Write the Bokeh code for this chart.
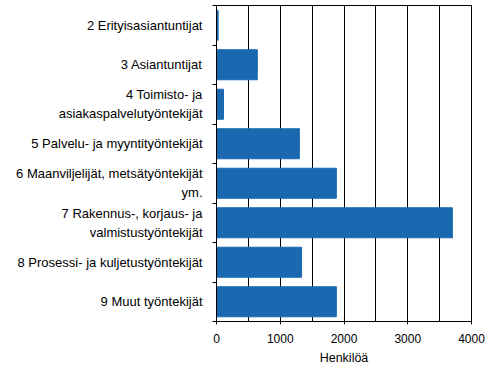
from bokeh.plotting import figure
from bokeh.models import (FactorRange, Range1d, LinearAxis, FixedTicker,
                          SingleIntervalTicker, ColumnDataSource)
from bokeh.embed import file_html
from bokeh.resources import INLINE

categories = [
    "2 Erityisasiantuntijat",
    "3 Asiantuntijat",
    "4 Toimisto- ja\nasiakaspalvelutyöntekijät",
    "5 Palvelu- ja myyntityöntekijät",
    "6 Maanviljelijät, metsätyöntekijät\nym.",
    "7 Rakennus-, korjaus- ja\nvalmistustyöntekijät",
    "8 Prosessi- ja kuljetustyöntekijät",
    "9 Muut työntekijät",
]
values = [25, 640, 110, 1300, 1880, 3700, 1335, 1880]
x_ticks = [0, 1000, 2000, 3000, 4000]
grid_step = 500
x_max = 4000
axis_title = "Henkilöä"

FONT = "Liberation Sans"
BAR = "#1a69b0"

src = ColumnDataSource(dict(cat=categories, val=values))

p = figure(width=490, height=372,
           y_range=FactorRange(*reversed(categories)),
           x_range=Range1d(0, x_max),
           output_backend="svg", toolbar_location=None,
           min_border_left=216, min_border_right=19,
           min_border_top=5, min_border_bottom=51)

p.hbar(y="cat", left=0, right="val", height=0.76, color=BAR, source=src)

p.outline_line_color = "black"
p.outline_line_alpha = 1

# x axis
xa = p.xaxis[0]
xa.ticker = FixedTicker(ticks=x_ticks)
xa.major_tick_out = 3
xa.major_tick_in = 0
xa.minor_tick_line_color = None
xa.axis_line_color = "black"
xa.major_tick_line_color = "black"
xa.major_label_text_font = FONT
xa.major_label_text_font_size = "12px"
xa.major_label_text_color = "black"
xa.major_label_standoff = 9
xa.axis_label = axis_title
xa.axis_label_text_font = FONT
xa.axis_label_text_font_size = "12.5px"
xa.axis_label_text_font_style = "normal"
xa.axis_label_text_color = "black"
xa.axis_label_standoff = 5

p.xgrid.ticker = SingleIntervalTicker(interval=grid_step)
p.xgrid.grid_line_color = "black"
p.xgrid.grid_line_alpha = 1
p.ygrid.visible = False

# categorical y axis (labels only)
ya = p.yaxis[0]
ya.axis_line_color = None
ya.major_tick_line_color = None
ya.major_tick_out = 0
ya.major_tick_in = 0
ya.major_label_standoff = 10
ya.major_label_text_font = FONT
ya.major_label_text_font_size = "13px"
ya.major_label_text_color = "black"
ya.major_label_text_line_height = 1.25
ya.major_label_text_align = "center"

# tick-only axis at category boundaries (synthetic coordinates 0..n)
n = len(categories)
ta = LinearAxis(ticker=FixedTicker(ticks=list(range(n + 1))),
                major_tick_out=4, major_tick_in=0,
                minor_tick_line_color=None,
                major_label_overrides={i: "" for i in range(n + 1)},
                major_label_standoff=0,
                major_label_text_font_size="1px",
                axis_line_color="black", major_tick_line_color="black")
p.left = [ta, ya]

open("out.html", "w").write(file_html(p, INLINE))
